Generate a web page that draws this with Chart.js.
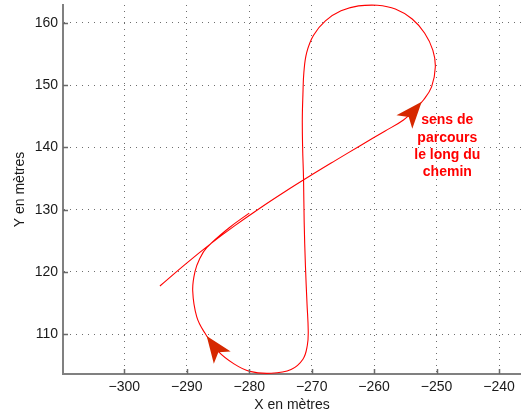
<!DOCTYPE html>
<html>
<head>
<meta charset="utf-8">
<script src="https://cdn.jsdelivr.net/npm/chart.js@4/dist/chart.umd.min.js"></script>
<style>
  html, body { margin: 0; padding: 0; background: #ffffff; }
  canvas { display: block; }
</style>
</head>
<body>
<canvas id="trajet" width="521" height="415"></canvas>
<script>
// Trajectory of the vehicle, in metres (ordered along the path)
const pathX = [
  -294.3, -290.3, -286.3, -282.3, -278.3, -274.3, -270.3, -266.3, -262.3, -258.3,
  -255.3, -253.6, -252.1, -250.8, -250.2, -250.6, -251.9, -253.9, -256.6, -259.5,
  -262.5, -265.3, -267.8, -269.7, -270.8, -271.25, -271.4, -271.5, -271.45, -271.3,
  -271.2, -271.0, -270.75, -270.55, -270.7, -271.4, -273.3, -276.5, -279.9, -282.5,
  -285.0, -287.1, -288.4, -289.05, -288.7, -287.9, -286.8, -283.2, -280.0
];
const pathY = [
  117.75, 121.19, 124.43, 127.43, 130.23, 132.87, 135.39, 137.83, 140.23, 142.59,
  144.39, 146.0, 147.6, 149.7, 152.9, 155.6, 158.3, 160.6, 162.2, 162.8,
  162.7, 161.9, 160.3, 158.0, 155.2, 152.0, 148.5, 144.5, 140.0, 134.8,
  128.0, 121.0, 115.0, 110.5, 108.2, 106.0, 104.35, 103.75, 104.05, 105.3,
  107.3, 110.2, 112.8, 117.0, 120.0, 122.2, 123.9, 127.1, 129.45
];

// Axis ranges and tick values
const xRange = [-309.82, -236.48];
const yRange = [103.63, 162.84];
const xTicks = [-300, -290, -280, -270, -260, -250, -240];
const yTicks = [110, 120, 130, 140, 150, 160];

// Direction arrows: tip and back-centre, in metres
const arrowTipX  = [-252.38, -286.81];
const arrowTipY  = [147.32, 109.73];
const arrowBackX = [-255.10, -284.28];
const arrowBackY = [144.12, 106.20];

// Caption placed beside the upper arrow
const noteLines = ['sens de', 'parcours', 'le long du', 'chemin'];
const noteX = -248.28;
const noteY = 143.67;

const FONT = "'Liberation Sans', Arial, Helvetica, sans-serif";
const fmtTick = v => (v < 0 ? '\u2212' + Math.abs(v) : String(v));

// Inward tick marks, arrowheads and caption
const decorations = {
  id: 'decorations',
  afterDatasetsDraw(chart) {
    const { ctx, chartArea: a } = chart;
    const xs = chart.scales.x, ys = chart.scales.y;

    ctx.save();
    ctx.strokeStyle = '#6a6a6a';
    ctx.lineWidth = 1.5;
    ctx.beginPath();
    xTicks.forEach(v => {
      const px = Math.round(xs.getPixelForValue(v)) + 0.5;
      ctx.moveTo(px, a.bottom);
      ctx.lineTo(px, a.bottom - 5);
    });
    yTicks.forEach(v => {
      const py = Math.round(ys.getPixelForValue(v)) + 0.5;
      ctx.moveTo(a.left, py);
      ctx.lineTo(a.left + 5, py);
    });
    ctx.stroke();

    // arrowheads with a notched back
    const L = 26.7, W = 10.4, N = 20;
    ctx.fillStyle = '#d62800';
    arrowTipX.forEach((_, i) => {
      const tx = xs.getPixelForValue(arrowTipX[i]);
      const ty = ys.getPixelForValue(arrowTipY[i]);
      const bx = xs.getPixelForValue(arrowBackX[i]);
      const by = ys.getPixelForValue(arrowBackY[i]);
      const d = Math.hypot(bx - tx, by - ty);
      const ux = (bx - tx) / d, uy = (by - ty) / d;
      const px = -uy, py = ux;
      ctx.beginPath();
      ctx.moveTo(tx, ty);
      ctx.lineTo(tx + ux * L + px * W, ty + uy * L + py * W);
      ctx.lineTo(tx + ux * N, ty + uy * N);
      ctx.lineTo(tx + ux * L - px * W, ty + uy * L - py * W);
      ctx.closePath();
      ctx.fill();
    });

    ctx.fillStyle = '#ff0000';
    ctx.font = 'bold 14px ' + FONT;
    ctx.textAlign = 'center';
    ctx.textBaseline = 'alphabetic';
    const cx = xs.getPixelForValue(noteX);
    const cy = ys.getPixelForValue(noteY);
    noteLines.forEach((t, i) => ctx.fillText(t, cx, cy + i * 17.3));
    ctx.restore();
  }
};

// keep the plot area flush with the canvas edges
const noEdgePadding = s => {
  s.paddingTop = 0; s.paddingBottom = 0; s.paddingLeft = 0; s.paddingRight = 0;
};

new Chart(document.getElementById('trajet'), {
  type: 'line',
  data: {
    datasets: [{
      data: pathX.map((x, i) => ({ x, y: pathY[i] })),
      borderColor: '#ff0000',
      borderWidth: 1.1,
      pointRadius: 0,
      tension: 0.4,
      fill: false,
      clip: { left: 0, top: 3, right: 0, bottom: 0 }
    }]
  },
  options: {
    responsive: false,
    animation: false,
    devicePixelRatio: 1,
    layout: { padding: { top: 5, right: 0, left: 0, bottom: 0 } },
    plugins: { legend: { display: false }, tooltip: { enabled: false } },
    scales: {
      x: {
        type: 'linear',
        min: xRange[0],
        max: xRange[1],
        afterBuildTicks: s => { s.ticks = xTicks.map(v => ({ value: v })); },
        afterFit: s => { s.height = 41; noEdgePadding(s); },
        ticks: {
          callback: fmtTick,
          color: '#1a1a1a',
          padding: 5,
          maxRotation: 0,
          autoSkip: false,
          font: { family: FONT, size: 14 }
        },
        grid: { color: '#6e6e6e', lineWidth: 1, drawTicks: false },
        border: { color: '#808080', width: 2, dash: [1, 5] },
        title: {
          display: true,
          text: 'X en mètres',
          color: '#1a1a1a',
          font: { family: FONT, size: 14 },
          padding: { top: 0, bottom: 1 }
        }
      },
      y: {
        type: 'linear',
        min: yRange[0],
        max: yRange[1],
        afterBuildTicks: s => { s.ticks = yTicks.map(v => ({ value: v })); },
        afterFit: s => { s.width = 63; noEdgePadding(s); },
        ticks: {
          callback: fmtTick,
          color: '#1a1a1a',
          padding: 5,
          autoSkip: false,
          font: { family: FONT, size: 14 }
        },
        grid: { color: '#6e6e6e', lineWidth: 1, drawTicks: false },
        border: { color: '#808080', width: 2, dash: [1, 5] },
        title: {
          display: true,
          text: 'Y en mètres',
          color: '#1a1a1a',
          font: { family: FONT, size: 14 },
          padding: { top: 12, bottom: 0 }
        }
      }
    }
  },
  plugins: [decorations]
});
</script>
</body>
</html>
